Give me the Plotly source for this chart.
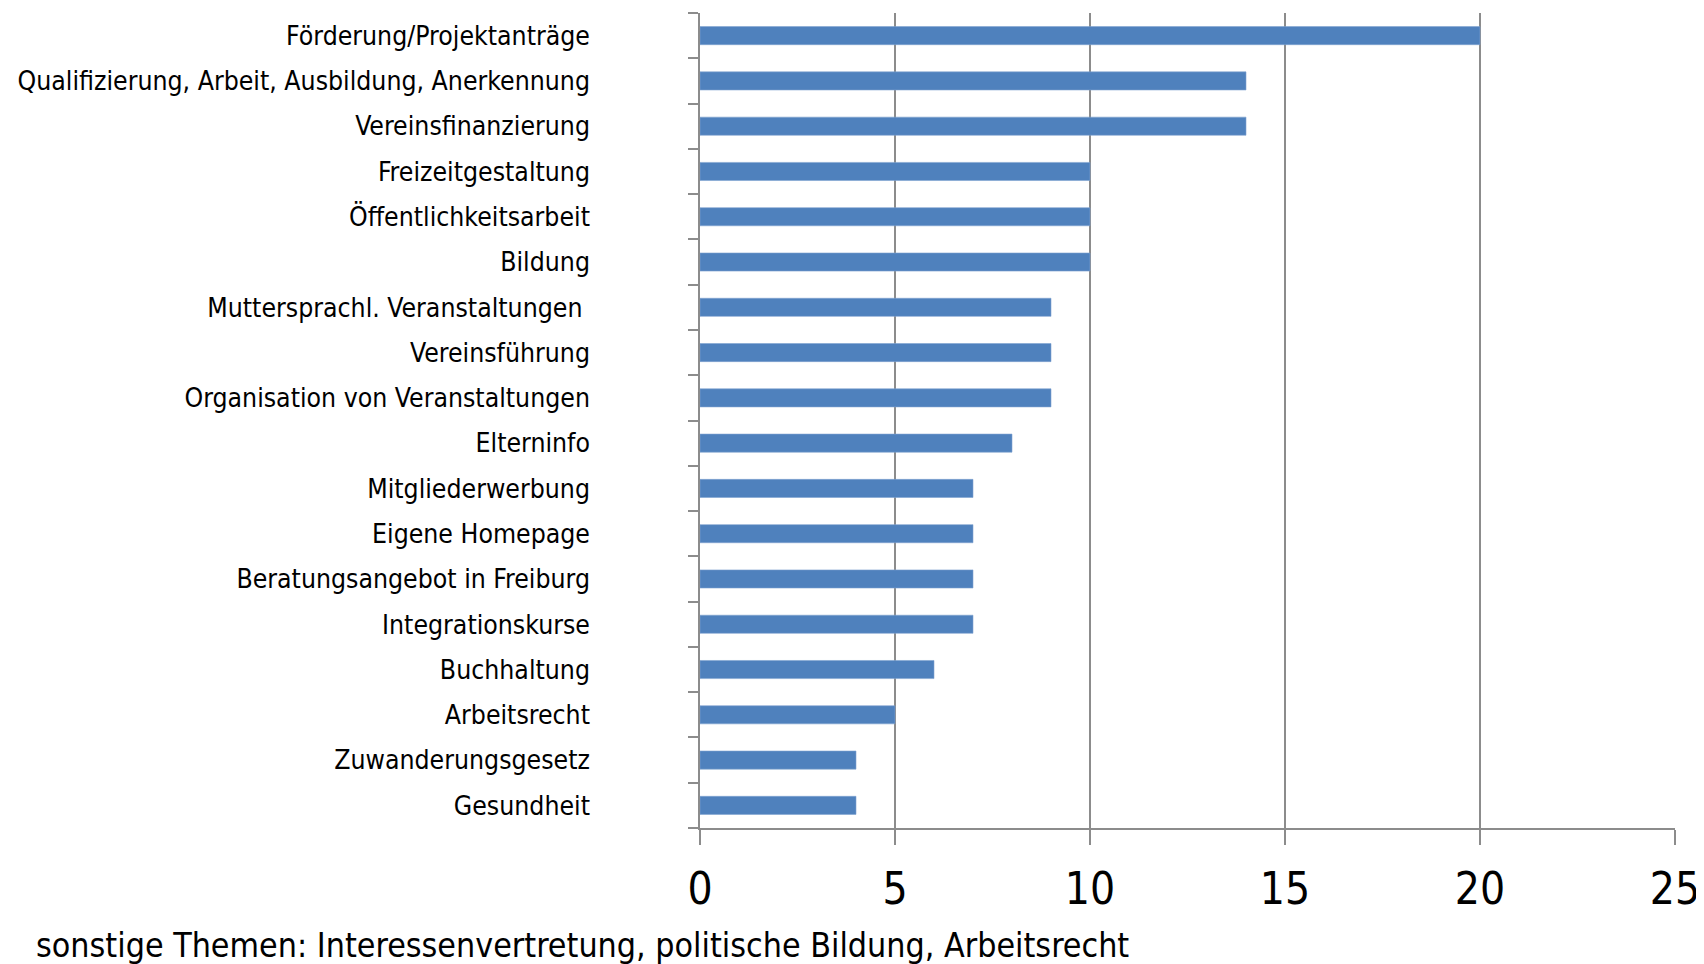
import plotly.graph_objects as go

categories = [
    "Förderung/Projektanträge",
    "Qualifizierung, Arbeit, Ausbildung, Anerkennung",
    "Vereinsfinanzierung",
    "Freizeitgestaltung",
    "Öffentlichkeitsarbeit",
    "Bildung",
    "Muttersprachl. Veranstaltungen ",
    "Vereinsführung",
    "Organisation von Veranstaltungen",
    "Elterninfo",
    "Mitgliederwerbung",
    "Eigene Homepage",
    "Beratungsangebot in Freiburg",
    "Integrationskurse",
    "Buchhaltung",
    "Arbeitsrecht",
    "Zuwanderungsgesetz",
    "Gesundheit",
]
values = [20, 14, 14, 10, 10, 10, 9, 9, 9, 8, 7, 7, 7, 7, 6, 5, 4, 4]
x_ticks = [0, 5, 10, 15, 20, 25]
note = "sonstige Themen: Interessenvertretung, politische Bildung, Arbeitsrecht"

FONT = "Liberation Sans Narrow, DejaVu Sans Condensed, Open Sans, sans-serif"

W, H = 1704, 964
ML, MR, MT, MB = 692, 37, 5, 144
PW, PH = W - ML - MR, H - MT - MB

fig = go.Figure(go.Bar(
    y=categories,
    x=values,
    orientation="h",
    marker=dict(color="#4F81BD", line=dict(color="#7FA3D0", width=0.6)),
))

fig.update_layout(
    template="none",
    width=W,
    height=H,
    margin=dict(l=ML, r=MR, t=MT, b=MB, autoexpand=False),
    plot_bgcolor="white",
    paper_bgcolor="white",
    bargap=0.6,
    showlegend=False,
    font=dict(family=FONT, color="#000000"),
)

fig.update_xaxes(
    automargin=False,
    range=[0, 25],
    tickvals=x_ticks,
    ticktext=[str(v) for v in x_ticks],
    showgrid=True,
    gridcolor="#8C8C8C",
    gridwidth=1.5,
    showline=True,
    linecolor="#8C8C8C",
    linewidth=1.5,
    ticks="outside",
    ticklen=15,
    tickcolor="#8C8C8C",
    tickwidth=1.5,
    tickfont=dict(size=44, family=FONT, color="#000000"),
    ticklabelstandoff=6,
    zeroline=False,
)

fig.update_yaxes(
    automargin=False,
    categoryorder="array",
    categoryarray=categories[::-1],
    autorange=False,
    range=[-0.5, len(categories) - 0.5],
    showline=True,
    linecolor="#8C8C8C",
    linewidth=1.5,
    ticks="outside",
    ticklen=10,
    tickcolor="#8C8C8C",
    tickwidth=1.5,
    tickson="boundaries",
    tickfont=dict(size=26.4, family=FONT, color="#000000"),
    ticklabelstandoff=103,
    showgrid=False,
    zeroline=False,
)

fig.add_annotation(
    text=note,
    xref="paper", yref="paper",
    x=(26 - ML) / PW,
    y=-(937 - (H - MB)) / PH,
    xanchor="left", yanchor="middle",
    showarrow=False,
    font=dict(size=33.7, family=FONT, color="#000000"),
)

fig.write_html("out.html")
